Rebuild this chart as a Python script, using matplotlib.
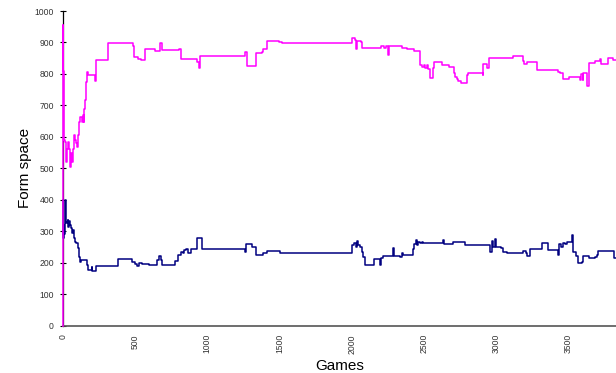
import matplotlib
matplotlib.use("Agg")
import matplotlib.pyplot as plt

# Form-space trajectories over games (step series, value holds until next change)
upper_games = [0, 1, 3, 6, 10, 14, 21, 28, 37, 42, 49, 55, 60, 67, 74, 83, 90, 97,
               106, 113, 120, 129, 136, 143, 148, 152, 159, 166, 176, 222, 224, 231,
               310, 487, 494, 522, 541, 568, 638, 670, 688, 804, 818, 822, 926, 942,
               947, 1261, 1273, 1335, 1377, 1388, 1411, 1497, 1515, 2000, 2024, 2028,
               2035, 2065, 2070, 2204, 2222, 2236, 2250, 2255, 2259, 2335, 2347, 2382,
               2432, 2474, 2486, 2502, 2509, 2520, 2527, 2543, 2566, 2571, 2578, 2624,
               2677, 2710, 2717, 2728, 2740, 2756, 2797, 2804, 2908, 2913, 2940, 2955,
               3028, 3121, 3190, 3195, 3213, 3282, 3433, 3444, 3463, 3509, 3583, 3587,
               3601, 3606, 3634, 3648, 3687, 3721, 3726, 3779, 3814, 3832]
upper_vals = [0, 955, 810, 740, 590, 585, 521, 563, 585, 563, 505, 548, 521, 560, 606,
              590, 580, 569, 606, 648, 664, 648, 669, 648, 690, 717, 775, 807, 797, 777,
              777, 844, 897, 890, 855, 849, 844, 879, 873, 897, 875, 880, 849, 846, 839,
              820, 857, 871, 826, 866, 871, 879, 906, 900, 897, 915, 908, 878, 905, 900,
              881, 889, 881, 889, 883, 860, 890, 890, 884, 878, 873, 829, 823, 830, 820,
              828, 816, 788, 818, 837, 839, 829, 821, 802, 791, 783, 778, 770, 797, 804,
              797, 831, 818, 850, 852, 858, 841, 831, 837, 813, 807, 802, 784, 791, 781,
              799, 781, 802, 763, 834, 841, 848, 831, 850, 845, 845]

lower_games = [0, 3, 5, 8, 14, 18, 28, 32, 37, 42, 49, 55, 60, 67, 74, 83, 92, 102,
               111, 120, 125, 164, 176, 199, 203, 226, 383, 476, 499, 510, 527, 545,
               596, 649, 665, 677, 688, 776, 799, 818, 834, 841, 850, 869, 887, 926,
               963, 1261, 1266, 1308, 1335, 1388, 1411, 1504, 1543, 2000, 2019, 2030,
               2040, 2047, 2058, 2070, 2081, 2093, 2155, 2197, 2204, 2220, 2289, 2294,
               2335, 2347, 2358, 2428, 2435, 2446, 2451, 2462, 2474, 2486, 2497, 2631,
               2643, 2700, 2786, 2959, 2971, 2982, 2994, 3001, 3035, 3047, 3079, 3190,
               3209, 3218, 3236, 3317, 3363, 3433, 3440, 3453, 3463, 3479, 3490, 3527,
               3532, 3555, 3571, 3594, 3606, 3648, 3687, 3698, 3710, 3818, 3832]
lower_vals = [400, 280, 320, 290, 400, 325, 331, 335, 315, 334, 320, 310, 294, 305,
              278, 267, 262, 246, 219, 204, 209, 193, 177, 185, 175, 190, 212, 204, 196,
              190, 200, 196, 193, 209, 220, 209, 193, 207, 225, 235, 232, 241, 243, 232,
              243, 278, 245, 235, 260, 251, 225, 230, 238, 230, 232, 257, 264, 251, 270,
              256, 249, 235, 219, 193, 211, 193, 214, 222, 246, 222, 219, 230, 225, 243,
              260, 272, 256, 267, 262, 267, 262, 272, 260, 266, 256, 235, 270, 251, 274,
              251, 246, 235, 230, 236, 230, 222, 243, 262, 241, 225, 260, 249, 264, 260,
              267, 288, 235, 220, 198, 204, 222, 214, 219, 225, 238, 214, 214]

y_ticks = [0, 100, 200, 300, 400, 500, 600, 700, 800, 900, 1000]
x_ticks = [0, 500, 1000, 1500, 2000, 2500, 3000, 3500]

fig = plt.figure(figsize=(6.16, 3.73), dpi=100)
ax = fig.add_axes([0.1023, 0.1268, 0.8977, 0.8437])

ax.plot(lower_games, lower_vals, drawstyle="steps-post", color="#000080",
        lw=1.1, zorder=3, clip_on=False)
ax.plot(upper_games, upper_vals, drawstyle="steps-post", color="#FF00FF",
        lw=1.1, zorder=4, clip_on=False)

ax.set_xlim(0, 3832)
ax.set_ylim(0, 1000)
ax.set_yticks(y_ticks)
ax.set_xticks(x_ticks)
ax.set_xticklabels([str(t) for t in x_ticks], rotation=90)

for side in ("top", "right"):
    ax.spines[side].set_visible(False)
ax.spines["left"].set_color("black")
ax.spines["left"].set_linewidth(0.9)
ax.spines["left"].set_zorder(1)
ax.spines["bottom"].set_color("#555555")
ax.spines["bottom"].set_linewidth(1.2)

ax.tick_params(axis="y", direction="inout", length=5, width=0.8, color="black",
               labelsize=6.2, labelcolor="#333333", pad=4)
ax.tick_params(axis="x", length=0, labelsize=6.2, labelcolor="#333333", pad=6)
for lbl in ax.get_xticklabels() + ax.get_yticklabels():
    lbl.set_fontfamily(["Liberation Sans", "DejaVu Sans"])

ax.set_xlabel("Games", fontsize=11, family=["Liberation Sans", "DejaVu Sans"],
              labelpad=4)
ax.set_ylabel("Form space", fontsize=11, family=["Liberation Sans", "DejaVu Sans"],
              labelpad=2)

fig.savefig("out.png", dpi=100)
